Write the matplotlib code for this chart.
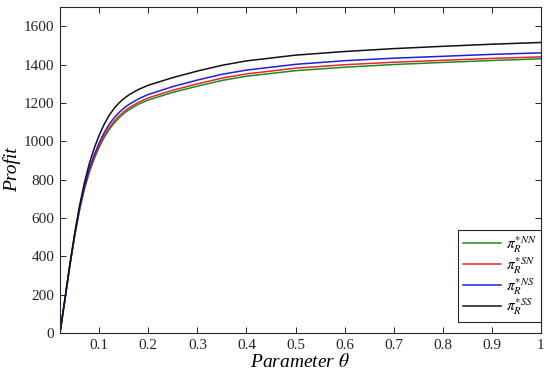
import matplotlib

matplotlib.use("Agg")
import matplotlib.pyplot as plt

# values
theta = [0.02, 0.03, 0.04, 0.05, 0.06, 0.07, 0.08, 0.09, 0.10, 0.11, 0.12, 0.13, 0.14,
         0.15, 0.16, 0.18, 0.20, 0.25, 0.30, 0.35, 0.40, 0.50, 0.60, 0.70, 0.80, 0.90, 1.00]

profit_nn = [0, 171, 348, 506, 643, 752, 840, 910, 969, 1019, 1060, 1093, 1121,
             1144, 1163, 1193, 1215, 1255, 1287, 1317, 1339, 1368, 1386, 1400, 1411, 1421, 1430]
profit_sn = [0, 172, 349, 508, 646, 756, 845, 916, 976, 1027, 1069, 1103, 1131,
             1154, 1173, 1203, 1226, 1266, 1299, 1329, 1351, 1381, 1399, 1412, 1422, 1432, 1440]
profit_ns = [0, 173, 351, 512, 652, 765, 857, 930, 992, 1044, 1087, 1121, 1149,
             1172, 1191, 1221, 1244, 1285, 1319, 1349, 1371, 1401, 1420, 1433, 1443, 1453, 1461]
profit_ss = [0, 175, 355, 520, 665, 785, 885, 965, 1032, 1088, 1134, 1170, 1199,
             1222, 1241, 1270, 1292, 1332, 1366, 1396, 1419, 1449, 1468, 1483, 1495, 1506, 1515]

labels = [r"$\pi_R^{*NN}$", r"$\pi_R^{*SN}$", r"$\pi_R^{*NS}$", r"$\pi_R^{*SS}$"]
colors = ["#1f8a1f", "#e8262a", "#1f1fd6", "#111111"]

plt.rcParams["font.family"] = ["Liberation Serif", "DejaVu Serif"]
plt.rcParams["mathtext.fontset"] = "stix"

fig = plt.figure(figsize=(5.5, 3.79), dpi=100)
ax = fig.add_axes([0.109, 0.1214, 0.8746, 0.8601])

for ys, lab, col in zip([profit_nn, profit_sn, profit_ns, profit_ss], labels, colors):
    ax.plot(theta, ys, color=col, linewidth=1.1, label=lab)

ax.set_xlim(0.02, 1)
ax.set_ylim(0, 1700)
ax.set_xticks([0.1, 0.2, 0.3, 0.4, 0.5, 0.6, 0.7, 0.8, 0.9, 1])
ax.set_xticklabels(["0.1", "0.2", "0.3", "0.4", "0.5", "0.6", "0.7", "0.8", "0.9", "1"])
ax.set_yticks(range(0, 1700, 200))
ax.tick_params(direction="in", top=True, right=True, labelsize=11,
               length=4, width=0.7, colors="#262626", pad=4)
for sp in ax.spines.values():
    sp.set_linewidth(0.8)
    sp.set_color("#262626")

ax.set_xlabel(r"Parameter $\theta$", fontsize=14, style="italic", labelpad=1)
ax.set_ylabel("Profit", fontsize=14, style="italic", labelpad=2)

leg = ax.legend(loc="lower right", bbox_to_anchor=(1.0, 0.034), borderaxespad=0,
                fontsize=11, handlelength=2.5, labelspacing=0.0, handletextpad=0.3,
                borderpad=0.3, fancybox=False, framealpha=1)
leg.get_frame().set_edgecolor("#262626")
leg.get_frame().set_linewidth(0.8)

fig.savefig("out.png", dpi=100)
